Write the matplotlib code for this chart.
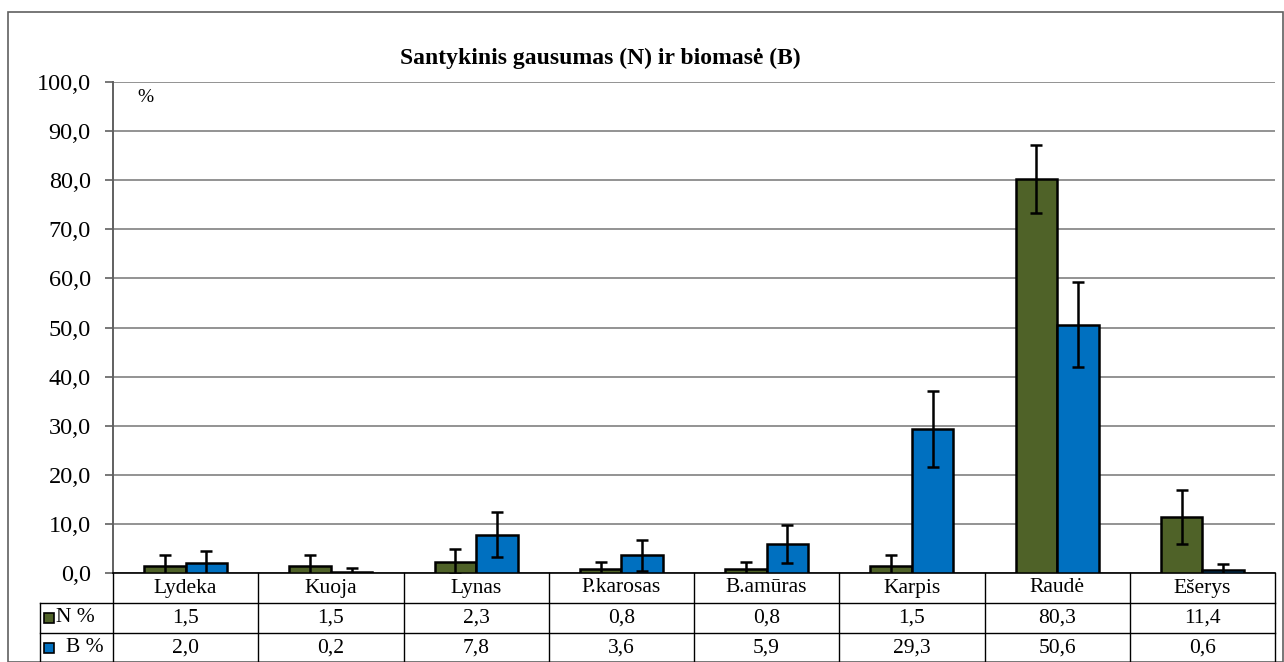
import numpy as np
import matplotlib.pyplot as plt
from matplotlib.patches import Rectangle

plt.rcParams['font.family'] = ['Liberation Serif', 'DejaVu Serif']

categories = ['Lydeka', 'Kuoja', 'Lynas', 'P.karosas', 'B.amūras', 'Karpis', 'Raudė', 'Ešerys']
n_vals = [1.5, 1.5, 2.3, 0.8, 0.8, 1.5, 80.3, 11.4]
b_vals = [2.0, 0.2, 7.8, 3.6, 5.9, 29.3, 50.6, 0.6]
n_err = [2.2, 2.2, 2.6, 1.4, 1.4, 2.2, 6.9, 5.5]
b_err = [2.5, 0.9, 4.6, 3.1, 3.9, 7.8, 8.6, 1.2]
series_labels = ['N %', 'B %']

green = '#4F6228'
blue = '#0070C0'

fig = plt.figure(figsize=(12.84, 6.62), dpi=100)
W, H = 1284, 662
ax = fig.add_axes([113 / W, 1 - 573 / H, (1275 - 113) / W, (573 - 82) / H])

x = np.arange(len(categories))
w = 0.286
ax.bar(x - w / 2, n_vals, w, color=green, edgecolor='black', linewidth=1.8, zorder=3)
ax.bar(x + w / 2, b_vals, w, color=blue, edgecolor='black', linewidth=1.8, zorder=3)
ax.errorbar(x - w / 2, n_vals, yerr=n_err, fmt='none', ecolor='black', elinewidth=1.8, capsize=4.5, capthick=1.8, zorder=4)
ax.errorbar(x + w / 2, b_vals, yerr=b_err, fmt='none', ecolor='black', elinewidth=1.8, capsize=4.5, capthick=1.8, zorder=4)

ax.set_xlim(-0.5, len(categories) - 0.5)
ax.set_ylim(0, 100)
ax.set_yticks(np.arange(0, 101, 10))
ax.set_yticklabels([f'{v:.1f}'.replace('.', ',') for v in np.arange(0, 101, 10)], fontsize=17.5)
ax.set_xticks([])
ax.grid(axis='y', color='#808080', linewidth=1.2, zorder=0)
ax.tick_params(axis='y', length=6, width=1.2, color='#606060', pad=10)
for s in ['top', 'right']:
    ax.spines[s].set_visible(False)
ax.spines['left'].set_color('#606060')
ax.spines['left'].set_linewidth(1.4)
ax.spines['bottom'].set_color('black')
ax.spines['bottom'].set_linewidth(1.2)

ax.text(0.021, 0.985, '%', transform=ax.transAxes, fontsize=14, va='top', ha='left')
fig.text(600 / W, 1 - 58 / H, 'Santykinis gausumas (N) ir biomasė (B)',
         fontsize=17, fontweight='bold', ha='center', va='center')

# data table below the axis, drawn in pixel coordinates of the figure
def fx(px):
    return px / W

def fy(py):
    return 1 - py / H

lc = 'black'
lw = 1.0
col_x = [113 + i * (1275 - 113) / len(categories) for i in range(len(categories) + 1)]
for cx in col_x:
    fig.add_artist(plt.Line2D([fx(cx), fx(cx)], [fy(573), fy(662)], color=lc, lw=lw))
fig.add_artist(plt.Line2D([fx(40), fx(40)], [fy(603), fy(662)], color=lc, lw=lw))
for ry in [603, 633]:
    fig.add_artist(plt.Line2D([fx(40), fx(1275)], [fy(ry), fy(ry)], color=lc, lw=lw))

fs = 15.5
for i, cat in enumerate(categories):
    cx = 0.5 * (col_x[i] + col_x[i + 1])
    fig.text(fx(cx), fy(588), cat, fontsize=fs, ha='center', va='center')
    fig.text(fx(cx), fy(618), f'{n_vals[i]:.1f}'.replace('.', ','), fontsize=fs, ha='center', va='center')
    fig.text(fx(cx), fy(648), f'{b_vals[i]:.1f}'.replace('.', ','), fontsize=fs, ha='center', va='center')

for ry, col, lab, tx in [(618, green, series_labels[0], 56), (648, blue, series_labels[1], 66)]:
    fig.add_artist(Rectangle((fx(44), fy(ry + 5)), 10 / W, 10 / H, facecolor=col, edgecolor='black', lw=1.2))
    fig.text(fx(tx), fy(ry), lab, fontsize=fs, ha='left', va='center')

# outer chart border
fig.add_artist(Rectangle((fx(8), fy(662)), (1284 - 8 - 1) / W, (662 - 12) / H, fill=False, edgecolor='#606060', lw=1.2))

fig.savefig('out.png', dpi=100)
